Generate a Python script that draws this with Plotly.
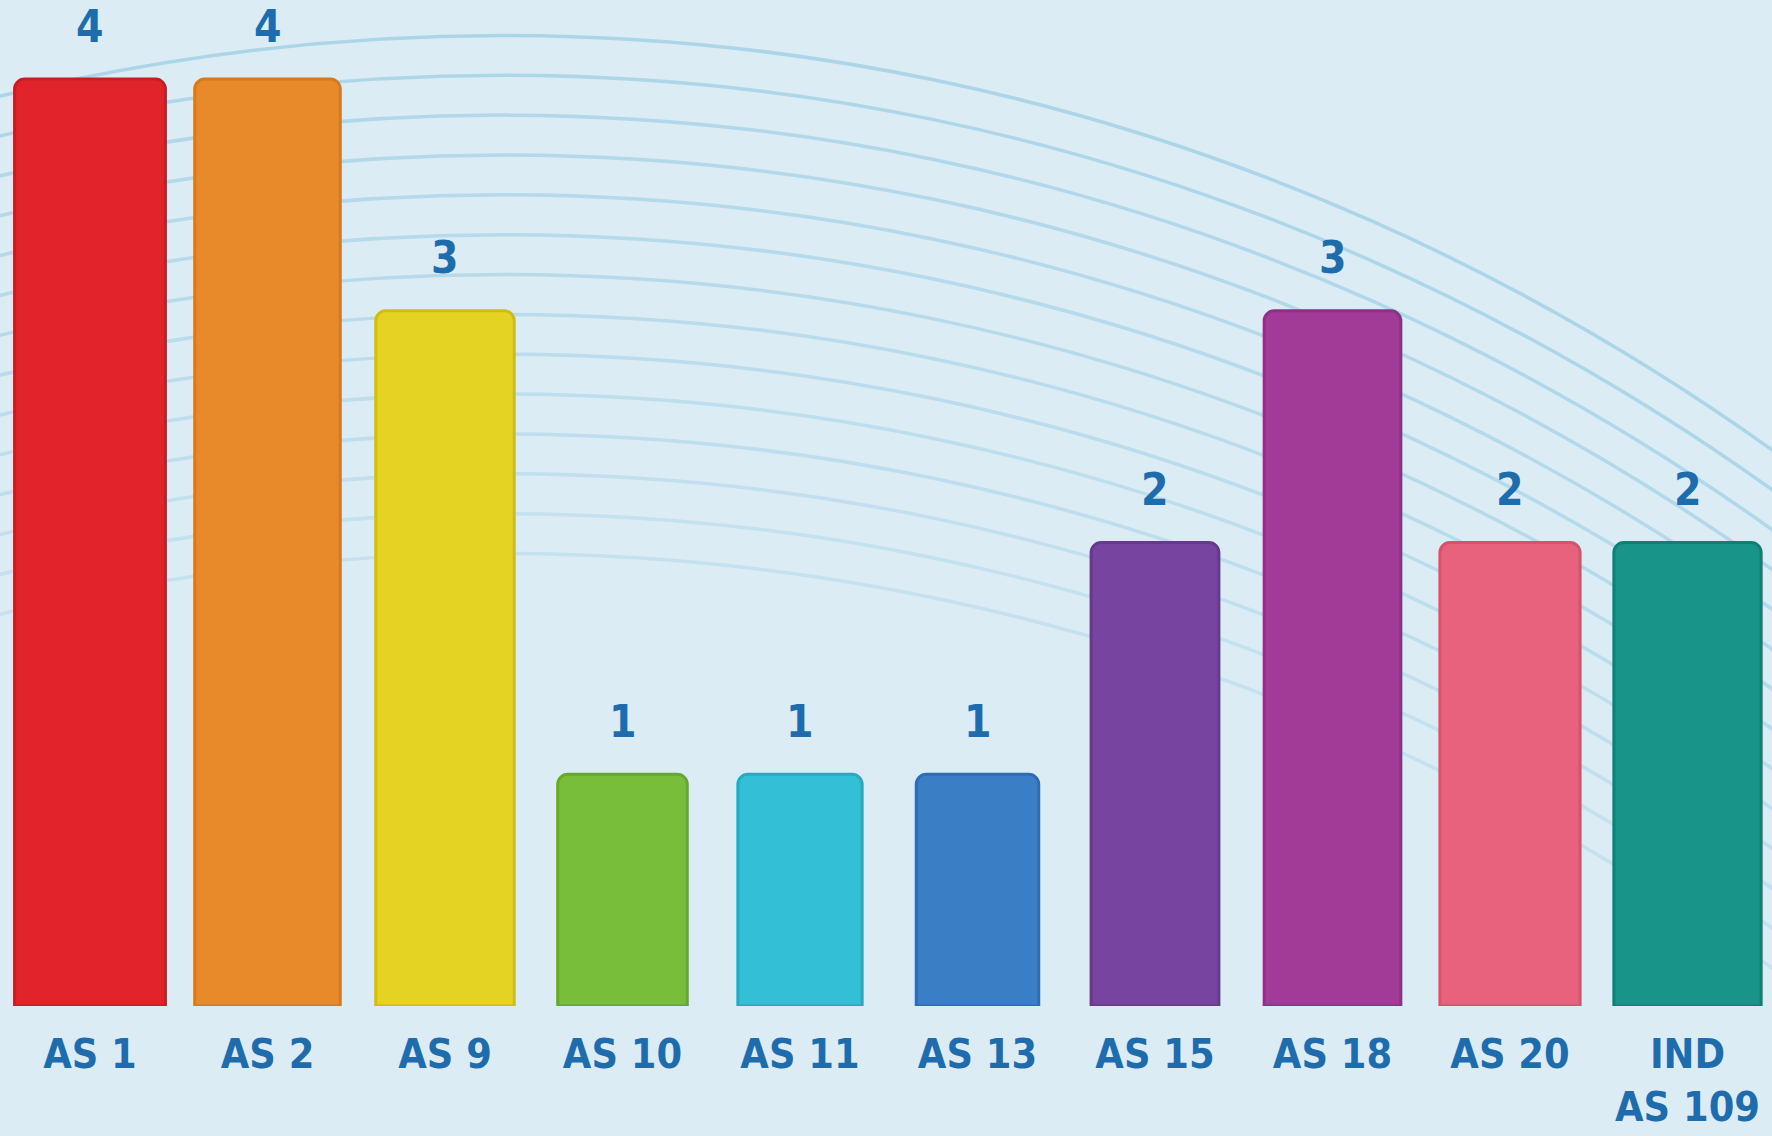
import plotly.graph_objects as go

# ---- data ----
categories = ["AS 1", "AS 2", "AS 9", "AS 10", "AS 11", "AS 13", "AS 15", "AS 18", "AS 20", "IND<br>AS 109"]
counts = [4, 4, 3, 1, 1, 1, 2, 3, 2, 2]

# ---- styles ----
bar_colors = ["#e1242b", "#e8892a", "#e4d323", "#78be3a", "#33bfd5", "#3a7fc6",
              "#7745a0", "#a13b97", "#e8617d", "#189488"]
edge_colors = ["#c81d24", "#d77a1f", "#cfbd14", "#66a82e", "#27aac1", "#2f6db3",
               "#653a8c", "#8c3184", "#d5536d", "#127f75"]
bar_widths = [0.85, 0.82, 0.78, 0.73, 0.70, 0.69, 0.72, 0.77, 0.79, 0.83]
text_color = "#1f6cad"
font_family = "Liberation Sans Narrow, DejaVu Sans Condensed, Roboto Condensed, Arial Narrow, Roboto, sans-serif"

fig = go.Figure()
fig.add_trace(go.Bar(
    x=categories, y=counts,
    width=bar_widths,
    marker=dict(color=bar_colors, line=dict(color=edge_colors, width=3), cornerradius=10),
    hoverinfo="x+y",
))

for c, v in zip(categories, counts):
    fig.add_annotation(x=c, y=v, text=str(v), showarrow=False, yanchor="middle", yshift=53,
                       font=dict(family=font_family, size=44, color=text_color, weight="bold"))

# decorative background arcs (page pixel geometry converted to paper fractions)
W, H = 1772, 1136
shapes = []
cx, R, A = 503, 3000, 2366
for k in range(14):
    top = 40 + k * 45
    cy = top + R
    alpha = 0.6 - k * 0.025
    shapes.append(dict(type="circle", xref="paper", yref="paper", layer="below",
                       x0=(cx - A) / W, x1=(cx + A) / W,
                       y0=1 - (cy + R) / H, y1=1 - (cy - R) / H,
                       line=dict(color=f"rgba(140,198,224,{alpha:.3f})", width=3.5)))

fig.update_layout(
    width=W, height=H,
    margin=dict(l=0, r=0, t=0, b=130, autoexpand=False),
    paper_bgcolor="#dbecf5", plot_bgcolor="rgba(0,0,0,0)",
    showlegend=False,
    shapes=shapes,
    xaxis=dict(range=[-0.507, 9.476], showgrid=False, zeroline=False, showline=False, ticks="",
               automargin=False,
               tickfont=dict(family=font_family, size=41, color=text_color, weight="bold"),
               ticklabelstandoff=20),
    yaxis=dict(range=[0, 4.341], visible=False, showgrid=False, zeroline=False, automargin=False),
)

fig.write_html("out.html")
